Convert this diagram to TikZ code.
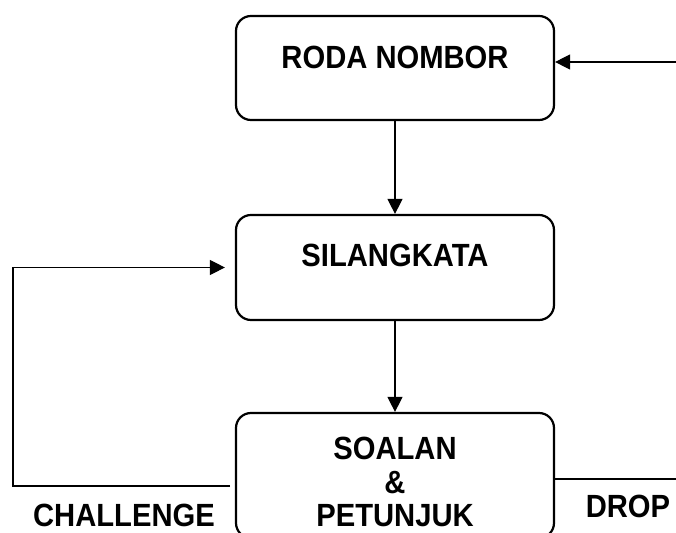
\documentclass[tikz,border=0pt]{standalone}
\usepackage{fontspec}
\usepackage{graphicx}
\setmainfont{Liberation Sans}
\usetikzlibrary{arrows.meta}

% slightly tall lettering
\newcommand\tallword[1]{\scalebox{1}[1.1]{#1}}

\tikzset{
  stage/.style={draw, line width=1.1pt, rounded corners=7.5pt, minimum width=159pt},
  title/.style={font=\bfseries\fontsize{14.6}{16.75}\selectfont, align=center, inner sep=0pt},
  flow/.style={line width=0.6pt, -{Triangle[length=7.5pt,width=7.5pt]}}
}

\begin{document}
\begin{tikzpicture}[x=0.5pt,y=-0.5pt]

    % page frame
    \clip (0,0) rectangle (676,533);
    \fill[white] (0,0) rectangle (676,533);

    % the three stages
    \node[stage, minimum height=52pt] (roda) at (395,68) {};
    \node[stage, minimum height=52.5pt] (silang) at (395,267.5) {};
    \node[stage, minimum height=62.5pt] (soalan) at (395,475.5) {};

    \node[title] (rodatxt) at (395,57.5) {\tallword{RODA NOMBOR}};
    \node[title] (silangtxt) at (395,255.5) {\tallword{SILANGKATA}};
    \node[title] (soalantxt) at (395,482) {\tallword{SOALAN}\\\tallword{\&}\\\tallword{PETUNJUK}};

    % free ends
    \coordinate (start) at (676,62);
    \coordinate (chl) at (230,486);
    \coordinate (turn) at (13,486);
    \coordinate (drop) at (676,479);

    % connectors
    \draw[flow] (start) -- (start -| roda.east);
    \draw[flow] (roda) -- (silang);
    \draw[flow] (silang) -- (soalan);
    \draw[flow, shorten >=5pt] (chl) -- (turn) |- (silang.west);
    \draw[line width=0.6pt] (soalan.east |- drop) -- (drop);

    % exit labels
    \node[title] (chltxt) at (124,515) {\tallword{CHALLENGE}};
    \node[title] (droptxt) at (628,506) {\tallword{DROP}};
  \end{tikzpicture}
\end{document}
